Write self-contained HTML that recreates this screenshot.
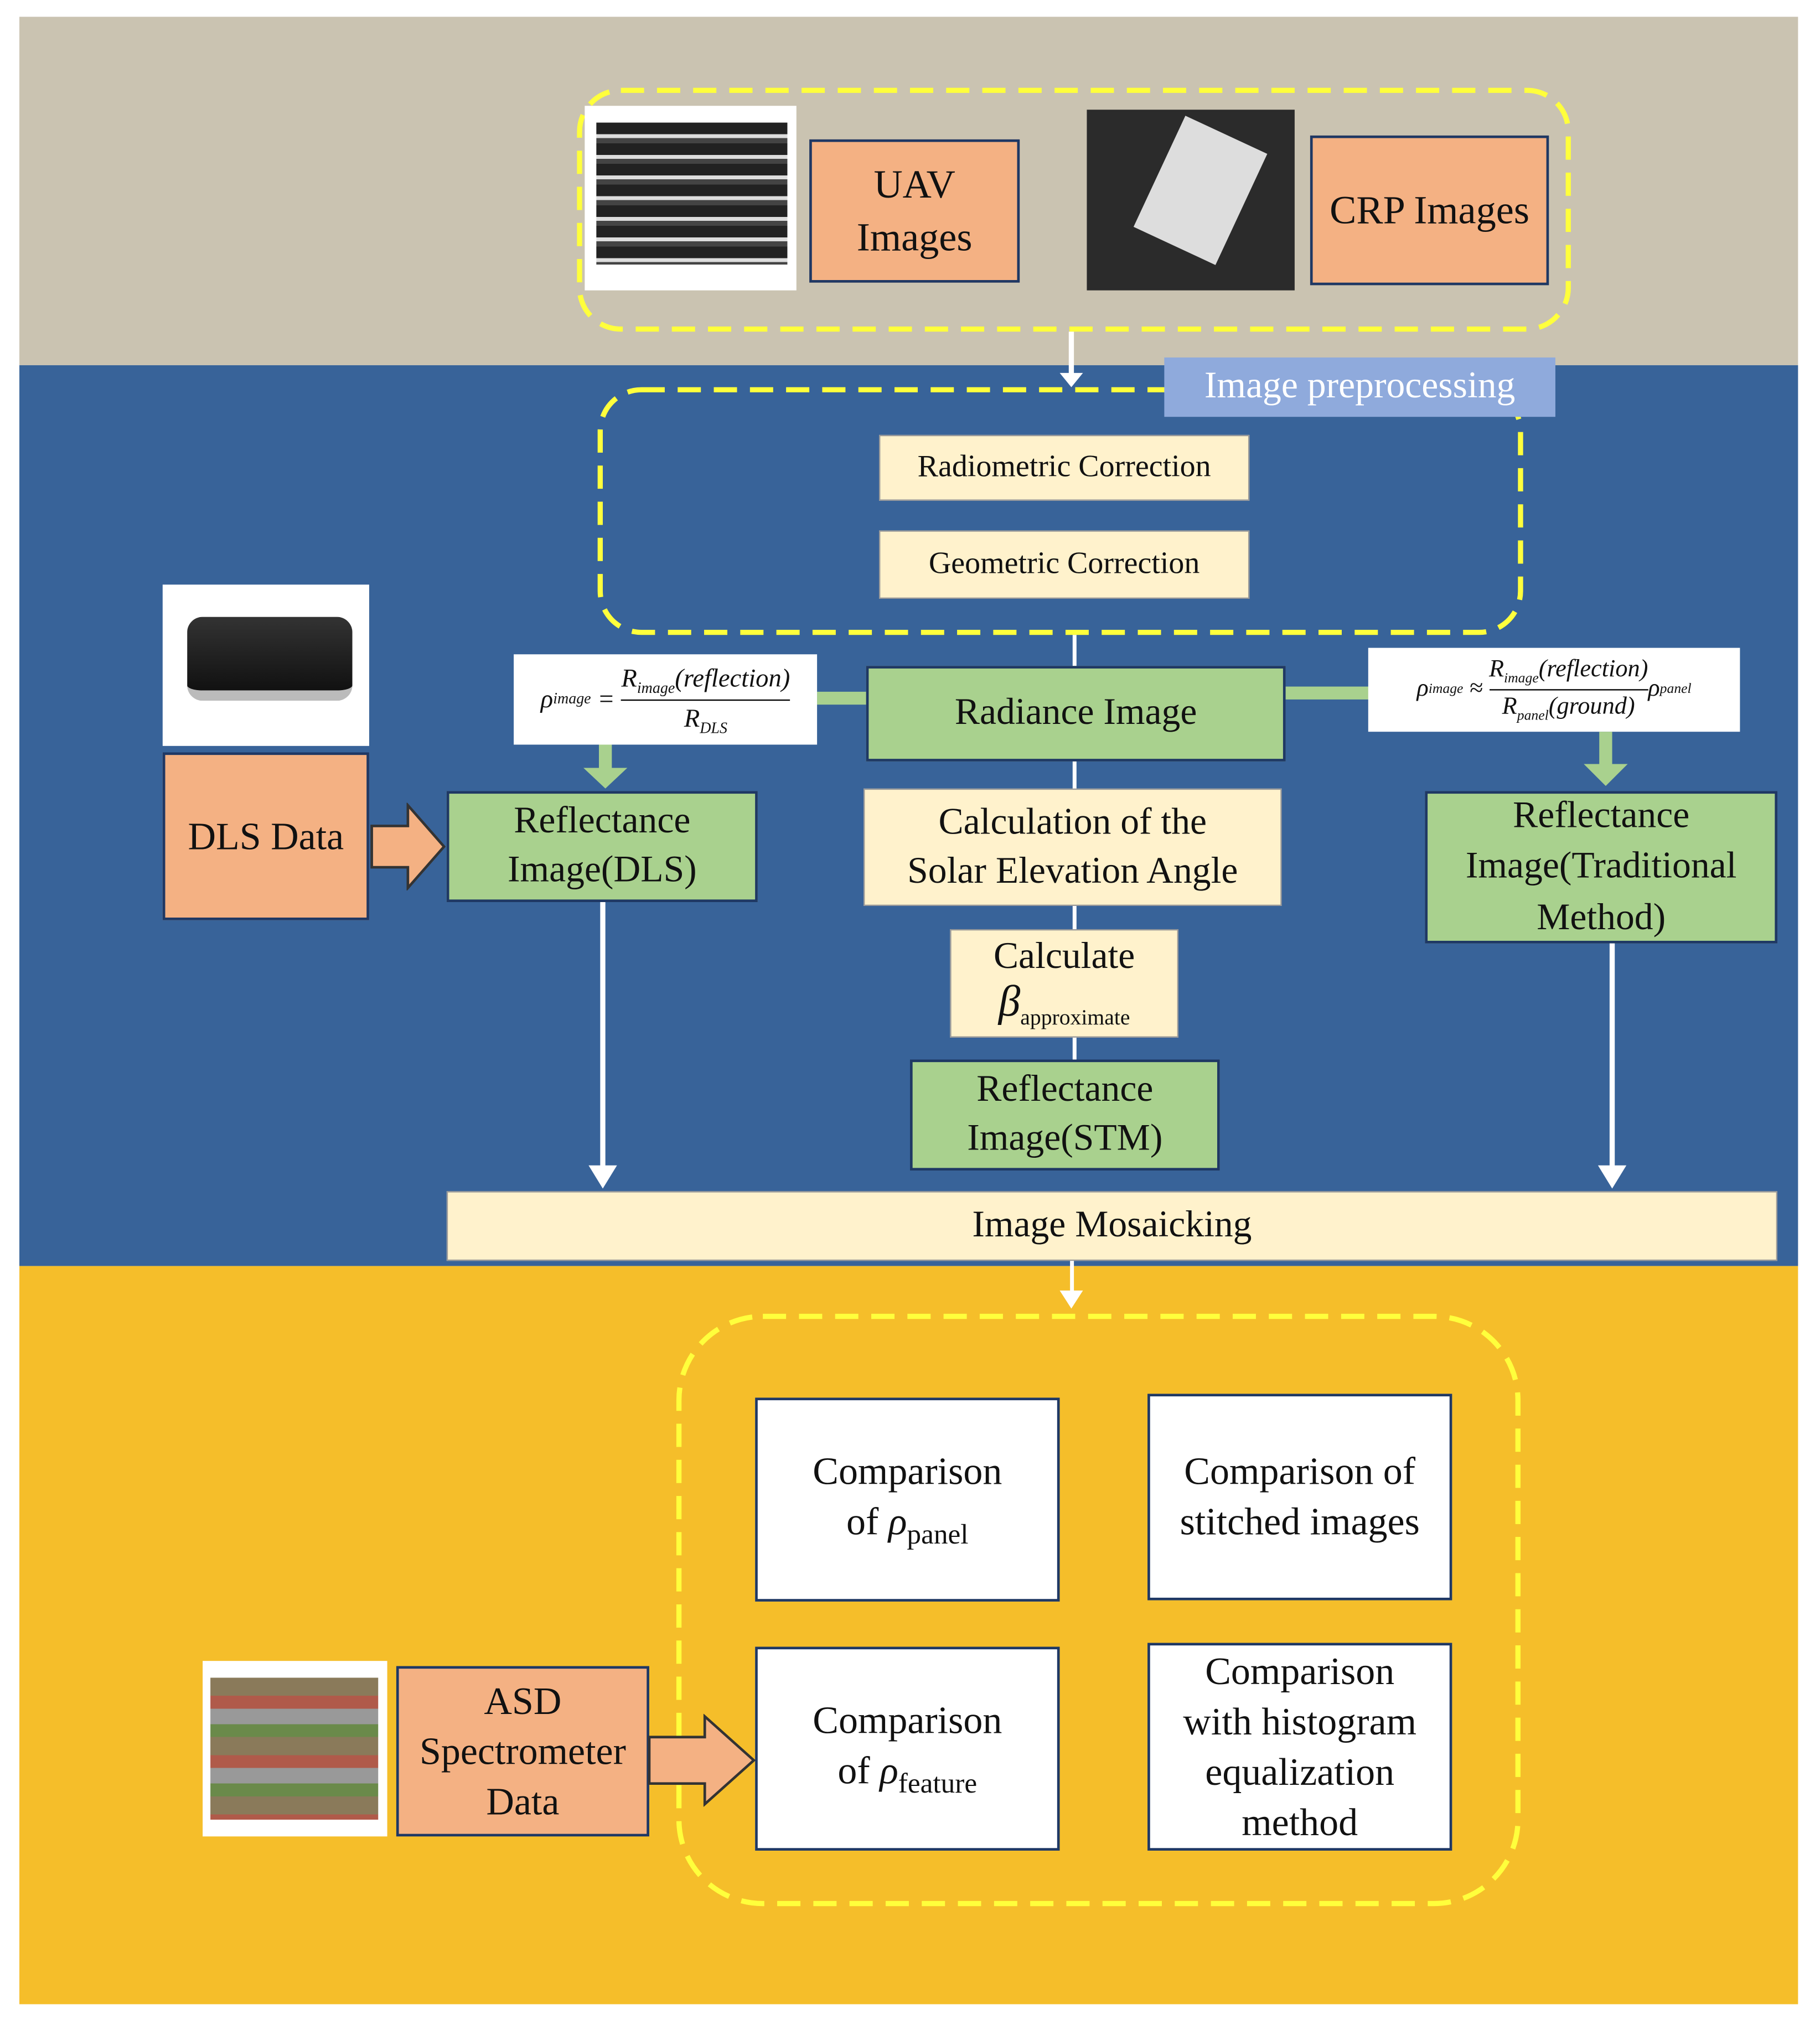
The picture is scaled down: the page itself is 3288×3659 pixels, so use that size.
<!DOCTYPE html>
<html><head><meta charset="utf-8"><style>
body{margin:0;background:#fff;}
#w{width:3288px;height:3659px;overflow:hidden;position:relative;background:#fff}
#c{position:absolute;left:0;top:0;width:1410px;height:1569px;transform:scale(2.3319);transform-origin:0 0;font-family:"Liberation Serif",serif;}
.a{position:absolute;box-sizing:border-box;}
.b{position:absolute;box-sizing:border-box;display:flex;align-items:center;justify-content:center;text-align:center;line-height:1.3;color:#111}
.o{background:#f4b183;border:2px solid #1f3864;font-size:31px}
.g{background:#a9d18e;border:2px solid #1f3864;font-size:29px}
.y{background:#fff2cc;border:1px solid #999;font-size:29px}
.w{background:#fff;border:2px solid #1f3864;font-size:30px}
.wl{position:absolute;background:#fff}
</style></head><body><div id="w"><div id="c">
<div class="a" style="left:15px;top:13px;width:1378px;height:270px;background:#cac3b1"></div>
<div class="a" style="left:15px;top:283px;width:1378px;height:698px;background:#386399"></div>
<div class="a" style="left:15px;top:981px;width:1378px;height:572px;background:#f5be2a"></div>

<svg class="a" style="left:0;top:0" width="1410" height="1569">
<g fill="none" stroke="#ffff3c" stroke-width="4" stroke-dasharray="18 10">
<rect x="449" y="70" width="766" height="185" rx="32"/>
<rect x="465" y="302" width="713" height="188" rx="32"/>
<rect x="526" y="1020" width="650" height="455" rx="65"/>
</g></svg>
<div class="a" style="left:453px;top:82px;width:164px;height:143px;background:#fff"></div>
<div class="a" style="left:462px;top:95px;width:148px;height:110px;background:repeating-linear-gradient(180deg,#222 0 9px,#ddd 9px 12px,#444 12px 16px)"></div>
<div class="b o" style="left:627px;top:108px;width:163px;height:111px"><div>UAV<br>Images</div></div>
<div class="a" style="left:842px;top:85px;width:161px;height:140px;background:#2b2b2b"></div>
<div class="a" style="left:895px;top:100px;width:70px;height:95px;background:#ddd;transform:rotate(25deg)"></div>
<div class="b o" style="left:1015px;top:105px;width:185px;height:116px"><div>CRP Images</div></div>

<div class="wl" style="left:828px;top:257px;width:4px;height:35px"></div>
<div class="a" style="left:821px;top:289px;border-left:9px solid transparent;border-right:9px solid transparent;border-top:11px solid #fff"></div>

<div class="b" style="left:902px;top:277px;width:303px;height:46px;background:#8faadc;color:#fff;font-size:29px"><div>Image preprocessing</div></div>
<div class="b y" style="left:681px;top:337px;width:287px;height:51px;font-size:24px"><div>Radiometric Correction</div></div>
<div class="b y" style="left:681px;top:411px;width:287px;height:53px;font-size:24px"><div>Geometric Correction</div></div>

<div class="wl" style="left:831px;top:492px;width:3px;height:330px"></div>

<div class="a" style="left:633px;top:536px;width:40px;height:10px;background:#a9d18e"></div>
<div class="a" style="left:994px;top:532px;width:68px;height:10px;background:#a9d18e"></div>
<div class="b g" style="left:671px;top:516px;width:325px;height:74px"><div>Radiance Image</div></div>
<div class="b" style="left:398px;top:507px;width:235px;height:70px;background:#fff;font-size:20px;font-style:italic"><div style="display:flex;align-items:center">ρ<sub style="font-size:12px">image</sub>&nbsp;=&nbsp;<span style="display:inline-block;text-align:center;line-height:1.4"><span style="border-bottom:1px solid #000;display:block">R<sub style="font-size:12px">image</sub>(reflection)</span>R<sub style="font-size:12px">DLS</sub></span></div></div>
<div class="b" style="left:1060px;top:502px;width:288px;height:65px;background:#fff;font-size:19px;font-style:italic"><div style="display:flex;align-items:center">ρ<sub style="font-size:11px">image</sub>&nbsp;≈&nbsp;<span style="display:inline-block;text-align:center;line-height:1.35"><span style="border-bottom:1px solid #000;display:block">R<sub style="font-size:11px">image</sub>(reflection)</span>R<sub style="font-size:11px">panel</sub>(ground)</span>ρ<sub style="font-size:11px">panel</sub></div></div>

<div class="a" style="left:464px;top:577px;width:10px;height:20px;background:#a9d18e"></div>
<div class="a" style="left:452px;top:595px;border-left:17px solid transparent;border-right:17px solid transparent;border-top:16px solid #a9d18e"></div>
<div class="a" style="left:1239px;top:567px;width:10px;height:26px;background:#a9d18e"></div>
<div class="a" style="left:1227px;top:592px;border-left:17px solid transparent;border-right:17px solid transparent;border-top:17px solid #a9d18e"></div>

<div class="a" style="left:126px;top:453px;width:160px;height:125px;background:#fff"></div>
<div class="a" style="left:145px;top:478px;width:128px;height:65px;background:linear-gradient(#333,#111);border-radius:12px;border-bottom:8px solid #bbb"></div>
<div class="b o" style="left:126px;top:583px;width:160px;height:130px;font-size:30px"><div>DLS Data</div></div>
<svg class="a" style="left:286px;top:622px" width="62" height="68"><polygon points="2,18 30,18 30,2 58,34 30,66 30,50 2,50" fill="#f4b183" stroke="#333" stroke-width="2"/></svg>
<div class="b g" style="left:346px;top:613px;width:241px;height:86px"><div>Reflectance<br>Image(DLS)</div></div>
<div class="b y" style="left:669px;top:611px;width:324px;height:91px"><div>Calculation of the<br>Solar Elevation Angle</div></div>
<div class="b y" style="left:736px;top:720px;width:177px;height:84px;line-height:1.1"><div>Calculate<br><i style="font-size:34px">β</i><sub style="font-size:17px">approximate</sub></div></div>
<div class="b g" style="left:705px;top:821px;width:240px;height:86px"><div>Reflectance<br>Image(STM)</div></div>
<div class="b g" style="left:1104px;top:613px;width:273px;height:118px;line-height:1.35"><div>Reflectance<br>Image(Traditional<br>Method)</div></div>

<div class="wl" style="left:465px;top:699px;width:4px;height:208px"></div>
<div class="a" style="left:456px;top:903px;border-left:11px solid transparent;border-right:11px solid transparent;border-top:18px solid #fff"></div>
<div class="wl" style="left:1247px;top:731px;width:4px;height:176px"></div>
<div class="a" style="left:1238px;top:903px;border-left:11px solid transparent;border-right:11px solid transparent;border-top:18px solid #fff"></div>

<div class="b y" style="left:346px;top:923px;width:1031px;height:54px"><div>Image Mosaicking</div></div>

<div class="wl" style="left:829px;top:977px;width:3px;height:28px"></div>
<div class="a" style="left:821px;top:1000px;border-left:9px solid transparent;border-right:9px solid transparent;border-top:14px solid #fff"></div>

<div class="b w" style="left:585px;top:1083px;width:236px;height:158px"><div>Comparison<br>of <i>ρ</i><sub style="font-size:22px">panel</sub></div></div>
<div class="b w" style="left:889px;top:1080px;width:236px;height:160px"><div>Comparison of<br>stitched images</div></div>
<div class="b w" style="left:585px;top:1276px;width:236px;height:158px"><div>Comparison<br>of <i>ρ</i><sub style="font-size:22px">feature</sub></div></div>
<div class="b w" style="left:889px;top:1273px;width:236px;height:161px"><div>Comparison<br>with histogram<br>equalization<br>method</div></div>

<div class="a" style="left:157px;top:1287px;width:143px;height:136px;background:#fff"></div>
<div class="a" style="left:163px;top:1300px;width:130px;height:110px;background:repeating-linear-gradient(180deg,#8a7a5a 0 14px,#b05a4a 14px 24px,#999 24px 36px,#6a8a4a 36px 46px)"></div>
<div class="b o" style="left:307px;top:1291px;width:196px;height:132px;font-size:30px;line-height:1.3"><div>ASD<br>Spectrometer<br>Data</div></div>
<svg class="a" style="left:502px;top:1328px" width="84" height="72"><polygon points="1,18 44,18 44,2 82,36 44,70 44,54 1,54" fill="#f4b183" stroke="#333" stroke-width="2"/></svg>
</div></div></body></html>
